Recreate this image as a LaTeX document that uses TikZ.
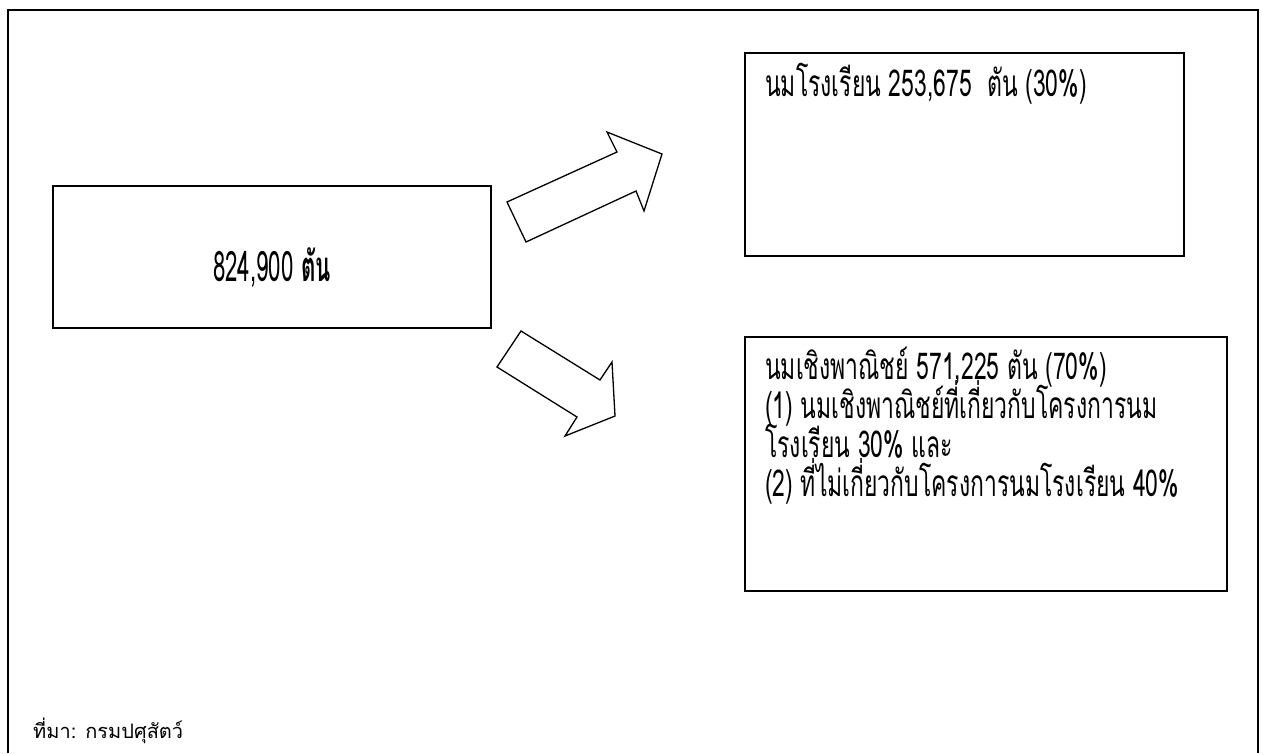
\documentclass[tikz,border=0pt]{standalone}
\usepackage{fontspec}
\newfontfamily\thai[Script=Thai]{Loma}
\newfontfamily\thaic[Script=Thai,FakeStretch=0.62]{Loma}
\newfontfamily\thaicc[Script=Thai,FakeStretch=0.53]{Loma}
\tikzset{
  box/.style={draw, line width=1.5pt, fill=white},
  arr/.style={draw, line width=1.3pt, line join=miter, fill=white},
  lbl/.style={anchor=base west, inner sep=0pt, font=\thaic\fontsize{37}{34}\selectfont},
}
\begin{document}
\begin{tikzpicture}[x=1pt,y=-1pt]
\useasboundingbox (0,0) rectangle (1262,753);
% outer frame
\draw[line width=2pt] (7.5,753) -- (7.5,9.5) -- (1257.5,9.5) -- (1257.5,753);
% boxes
\draw[box] (53,186) rectangle (491,328);
\node (total) at (272,281) [anchor=base, inner sep=0pt, font=\thaicc\fontsize{42}{30}\selectfont] {824,900 {\bfseries ตัน}};
\draw[box] (745,53) rectangle (1184,256);
\node[lbl] (school) at (765,96) {นมโรงเรียน 253,675 \ ตัน (30\%)};
\draw[box] (745,337) rectangle (1227,591);
\node[lbl] (com1) at (765,379) {นมเชิงพาณิชย์ 571,225 ตัน (70\%)};
\node[lbl] (com2) at (765,418) {(1) นมเชิงพาณิชย์ที่เกี่ยวกับโครงการนม};
\node[lbl] (com3) at (765,457) {โรงเรียน 30\% และ};
\node[lbl] (com4) at (765,496) {(2) ที่ไม่เกี่ยวกับโครงการนมโรงเรียน 40\%};
% arrows
\draw[arr] (526,242) -- (507,202) -- (617,152) -- (607,132) -- (662,154) -- (644,211) -- (636,191) -- cycle;
\draw[arr] (521,331) -- (497,367) -- (577,417) -- (565,436) -- (615,416) -- (612,362) -- (600,380) -- cycle;
% source
\node[anchor=base west, inner sep=0pt, font=\thai\fontsize{20}{22}\selectfont] (src) at (33,738) {ที่มา: กรมปศุสัตว์};
\end{tikzpicture}
\end{document}
